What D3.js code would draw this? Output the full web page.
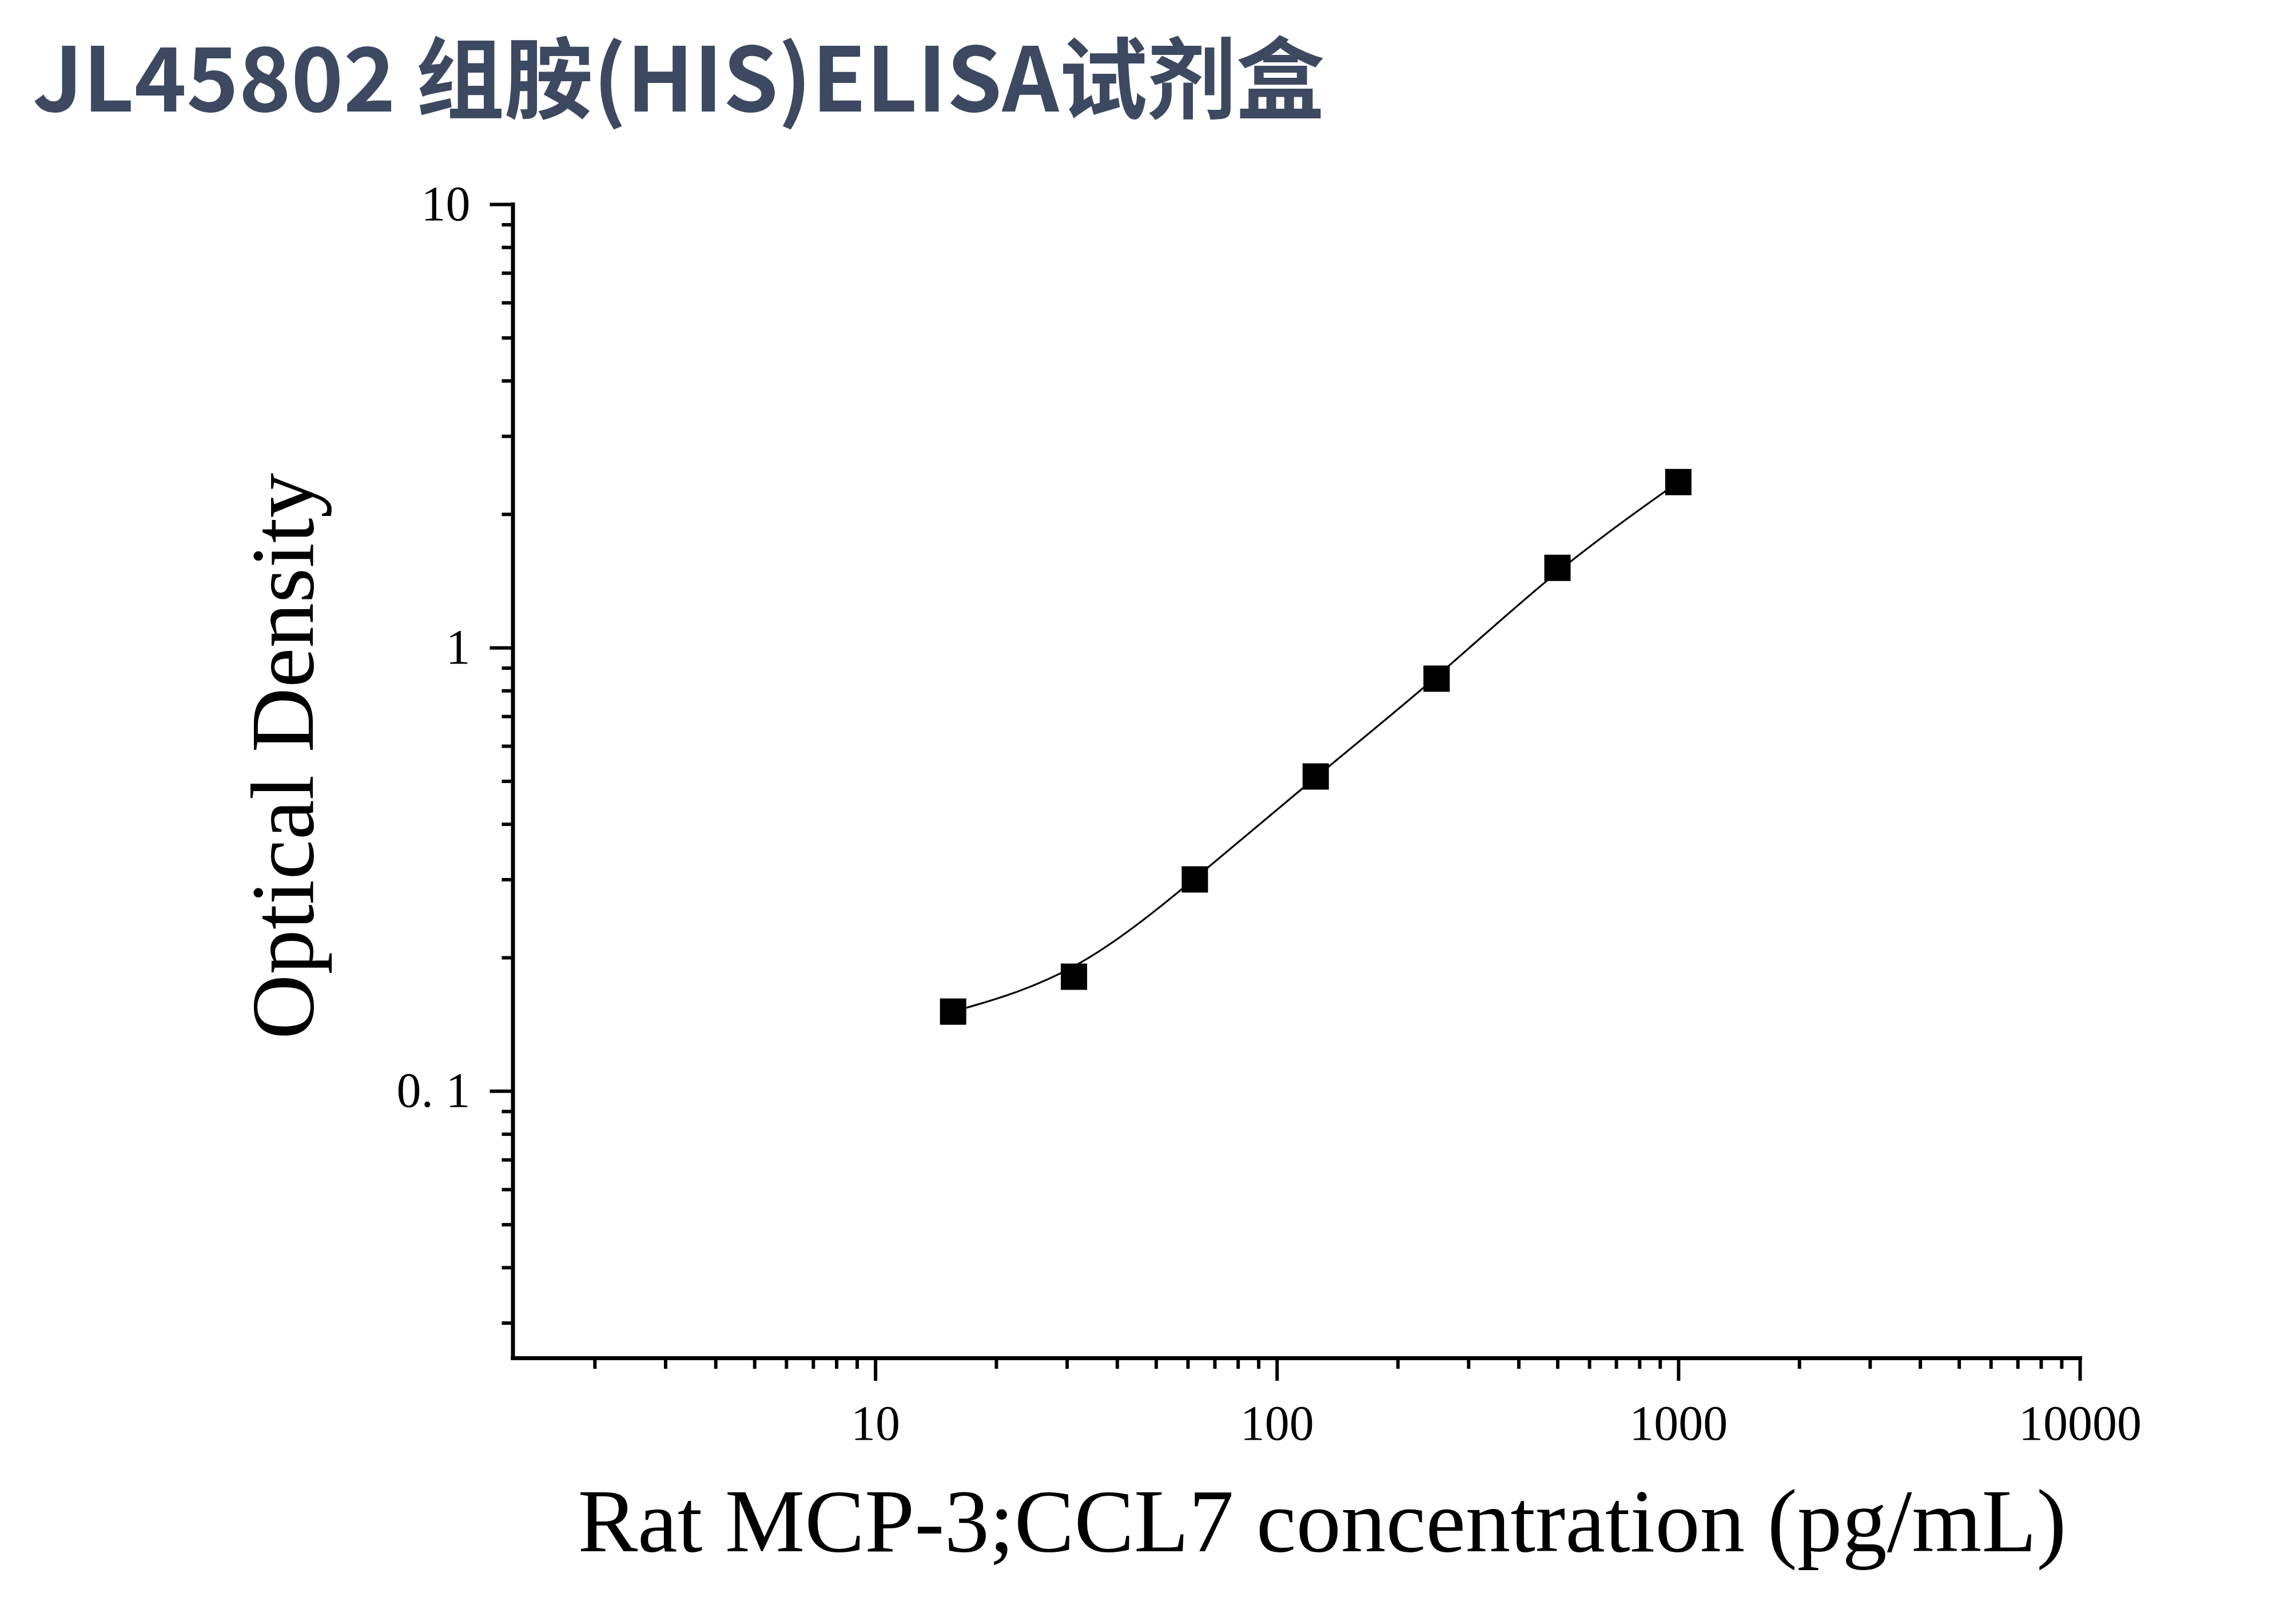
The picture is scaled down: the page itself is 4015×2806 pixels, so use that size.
<!DOCTYPE html>
<html>
<head>
<meta charset="utf-8">
<script src="https://cdn.jsdelivr.net/npm/d3@7"></script>
<style>
	html, body { margin: 0; padding: 0; background: #fff; }
	svg { display: block; }
</style>
</head>
<body>
<svg id="chart"></svg>
<script>
// standard curve readings
var concentrations = [15.625, 31.25, 62.5, 125, 250, 500, 1000];
var opticalDensity = [0.151, 0.181, 0.300, 0.512, 0.851, 1.513, 2.362];

var xTickValues = [10, 100, 1000, 10000];
var xTickLabels = ["10", "100", "1000", "10000"];
var yTickValues = [0.1, 1, 10];
var yTickLabels = ["0. 1", "1", "10"];

var titleText = "JL45802 组胺(HIS)ELISA试剂盒";
var xLabelText = "Rat MCP-3;CCL7 concentration (pg/mL)";
var yLabelText = "Optical Density";

var width = 4015,
	height = 2806,
	plotLeft = 896.5,
	plotRight = 3637,
	plotTop = 357,
	plotBottom = 2374,
	serif = "'Liberation Serif', 'Times New Roman', serif";

var svg = d3.select("#chart")
	.attr("width", width)
	.attr("height", height);

svg.append("rect")
	.attr("width", width)
	.attr("height", height)
	.attr("fill", "#fff");

var x = d3.scaleLog()
	.domain([1.25, 10000])
	.range([plotLeft, plotRight]);

var y = d3.scaleLog()
	.domain([0.025, 10])
	.range([plotBottom, plotTop]);

// minor ticks: 2..9 of every decade inside the domain
function minorTicks(scale) {
	var dom = scale.domain(), out = [];
	scale.ticks().forEach(function(t) {
		var lead = +t.toExponential().split("e")[0];
		if (Math.abs(lead - 1) > 1e-6 && t >= dom[0] && t <= dom[1]) out.push(t);
	});
	return out;
}

function labelFor(values, labels) {
	return function(d) {
		return labels[values.indexOf(d)];
	};
}

// x axis
svg.append("g")
	.attr("class", "x-minor")
	.attr("transform", "translate(0," + plotBottom + ")")
	.call(d3.axisBottom(x).tickValues(minorTicks(x)).tickSize(19).tickFormat(""))
	.call(function(g) { g.select(".domain").remove(); });

var xAxis = svg.append("g")
	.attr("class", "x-axis")
	.attr("transform", "translate(0," + plotBottom + ")")
	.call(d3.axisBottom(x)
		.tickValues(xTickValues)
		.tickSize(40)
		.tickSizeOuter(0)
		.tickPadding(42)
		.tickFormat(labelFor(xTickValues, xTickLabels)));

// y axis
svg.append("g")
	.attr("class", "y-minor")
	.attr("transform", "translate(" + plotLeft + ",0)")
	.call(d3.axisLeft(y).tickValues(minorTicks(y)).tickSize(19).tickFormat(""))
	.call(function(g) { g.select(".domain").remove(); });

var yAxis = svg.append("g")
	.attr("class", "y-axis")
	.attr("transform", "translate(" + plotLeft + ",0)")
	.call(d3.axisLeft(y)
		.tickValues(yTickValues)
		.tickSize(40)
		.tickSizeOuter(0)
		.tickPadding(34)
		.tickFormat(labelFor(yTickValues, yTickLabels)));

svg.selectAll(".x-axis .domain, .y-axis .domain")
	.attr("stroke", "#000")
	.attr("stroke-width", 7)
	.attr("stroke-linecap", "square");

svg.selectAll(".tick line")
	.attr("stroke", "#000")
	.attr("stroke-width", 6);

svg.selectAll(".tick text")
	.attr("fill", "#000")
	.style("font-family", serif)
	.style("font-size", "86px");

// smoothed standard curve
var line = d3.line()
	.x(function(d) { return x(d[0]); })
	.y(function(d) { return y(d[1]); })
	.curve(d3.curveBasis);

var points = concentrations.map(function(c, i) {
	return [c, opticalDensity[i]];
});

svg.append("path")
	.datum(points)
	.attr("d", line)
	.attr("fill", "none")
	.attr("stroke", "#000")
	.attr("stroke-width", 3.2);

var markerSize = 46;
svg.append("g")
	.selectAll("rect")
	.data(points)
	.enter()
	.append("rect")
	.attr("x", function(d) { return x(d[0]) - markerSize / 2; })
	.attr("y", function(d) { return y(d[1]) - markerSize / 2; })
	.attr("width", markerSize)
	.attr("height", markerSize)
	.attr("fill", "#000");

// labels
svg.append("text")
	.attr("x", 2312)
	.attr("y", 2712)
	.attr("text-anchor", "middle")
	.style("font-family", serif)
	.style("font-size", "157px")
	.attr("fill", "#000")
	.text(xLabelText);

svg.append("text")
	.attr("transform", "translate(547,1322) rotate(-90)")
	.attr("text-anchor", "middle")
	.style("font-family", serif)
	.style("font-size", "157px")
	.attr("fill", "#000")
	.text(yLabelText);

svg.append("text")
	.attr("x", 57)
	.attr("y", 195)
	.style("font-family", "'Noto Sans CJK SC', 'Noto Sans', sans-serif")
	.style("font-weight", 700)
	.style("font-size", "155px")
	.attr("fill", "#3d4961")
	.text(titleText);
</script>
</body>
</html>
